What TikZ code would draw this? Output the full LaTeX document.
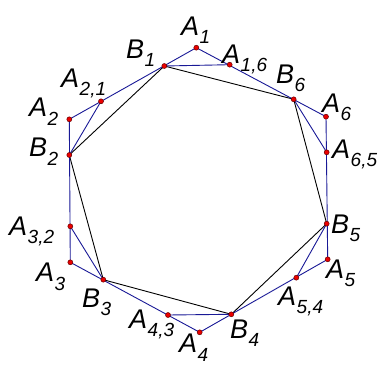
\documentclass[tikz,border=0pt]{standalone}
\usepackage{fontspec}
\setmainfont{Liberation Sans}
\definecolor{lineblue}{RGB}{25,25,150}
\definecolor{dotred}{RGB}{235,0,0}
\newcommand{\lbl}[2]{\textit{#1}\kern0.5pt\raisebox{-8.5pt}{\fontsize{19}{19}\selectfont\textit{#2}}}
\begin{document}
\begin{tikzpicture}[x=1pt,y=-1pt,
  blueline/.style={draw=lineblue,line width=0.9pt},
  blackline/.style={draw=black,line width=0.9pt},
  dot/.style={circle,fill=dotred,draw=black!60!red,line width=0.5pt,inner sep=0pt,minimum size=5pt},
  lab/.style={anchor=base west,inner sep=0pt,font=\fontsize{27}{27}\selectfont}]
\useasboundingbox (0,0) rectangle (388,364);
% points
\coordinate (A1) at (196.3,47.7);
\coordinate (A2) at (69.3,119.3);
\coordinate (A3) at (70.3,262.3);
\coordinate (A4) at (199.7,332.3);
\coordinate (A5) at (327.7,259.3);
\coordinate (A6) at (326,116.7);
\coordinate (B1) at (164.3,66);
\coordinate (B2) at (69.3,155);
\coordinate (B3) at (103.3,279.7);
\coordinate (B4) at (231.3,314.3);
\coordinate (B5) at (326.7,223.7);
\coordinate (B6) at (293.7,99.3);
\coordinate (A16) at (229.7,64.7);
\coordinate (A21) at (101,101.3);
\coordinate (A32) at (70.3,226.3);
\coordinate (A43) at (168,315);
\coordinate (A54) at (296.3,277.7);
\coordinate (A65) at (326.7,152.3);
% black inner hexagon
\draw[blackline] (B1) -- (B2) -- (B3) -- (B4) -- (B5) -- (B6) -- cycle;
% blue outer hexagon
\draw[blueline] (A1) -- (A2) -- (A3) -- (A4) -- (A5) -- (A6) -- cycle;
% blue connectors
\draw[blueline] (B1) -- (A16);
\draw[blueline] (B2) -- (A21);
\draw[blueline] (B3) -- (A32);
\draw[blueline] (B4) -- (A43);
\draw[blueline] (B5) -- (A54);
\draw[blueline] (B6) -- (A65);
% dots
\foreach \p in {A1,A2,A3,A4,A5,A6,B1,B2,B3,B4,B5,B6,A16,A21,A32,A43,A54,A65}
  \node[dot] (d\p) at (\p) {};
% labels
\node[lab] (lA1) at (181,35) {\lbl{A}{1}};
\node[lab] (lA16) at (222,63) {\lbl{A}{1,6}};
\node[lab] (lB1) at (126,58) {\lbl{B}{1}};
\node[lab] (lA21) at (61,87) {\lbl{A}{2,1}};
\node[lab] (lA2) at (29,116.7) {\lbl{A}{2}};
\node[lab] (lB2) at (29,156.7) {\lbl{B}{2}};
\node[lab] (lA32) at (9,235) {\lbl{A}{3,2}};
\node[lab] (lA3) at (36,281.7) {\lbl{A}{3}};
\node[lab] (lB3) at (82,307) {\lbl{B}{3}};
\node[lab] (lA43) at (129,328) {\lbl{A}{4,3}};
\node[lab] (lA4) at (179,352.5) {\lbl{A}{4}};
\node[lab] (lB4) at (230,338) {\lbl{B}{4}};
\node[lab] (lA54) at (278,305) {\lbl{A}{5,4}};
\node[lab] (lA5) at (326,278) {\lbl{A}{5}};
\node[lab] (lB5) at (331,233) {\lbl{B}{5}};
\node[lab] (lA65) at (332,158) {\lbl{A}{6,5}};
\node[lab] (lA6) at (322,112) {\lbl{A}{6}};
\node[lab] (lB6) at (276,83.3) {\lbl{B}{6}};
\end{tikzpicture}
\end{document}
